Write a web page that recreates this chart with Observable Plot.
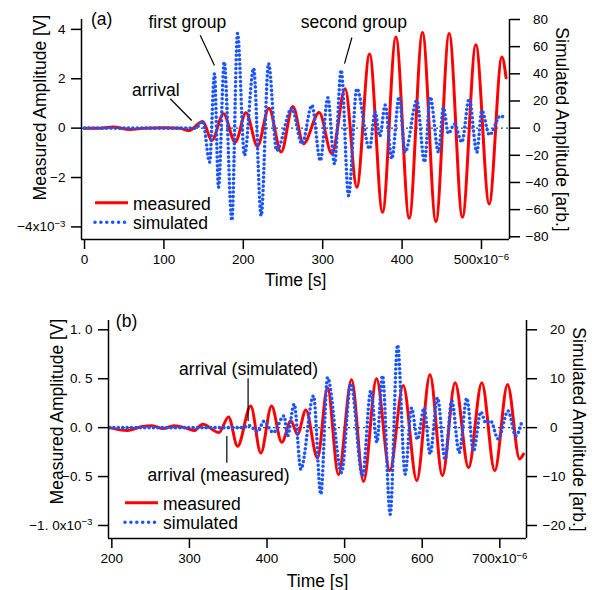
<!DOCTYPE html>
<html><head><meta charset="utf-8">
<script src="https://cdn.jsdelivr.net/npm/d3@7"></script>
<script src="https://cdn.jsdelivr.net/npm/@observablehq/plot@0.6"></script>
<style>
body{margin:0;background:#fff;}
#chart svg{display:block;}
</style></head><body><div id="chart"></div>
<script>
// ---- Panel (a): time in units of 1e-6 s, measured in 1e-3 V, simulated in arb. ----
const timeAMeasured = [0, 20, 36, 57, 75, 100, 120, 131, 149, 160.4, 175, 189.8, 203.3, 217.9, 232.2, 247.7, 262.4, 275.8, 295.6, 311.6, 328.3, 343, 359, 375.4, 392.2, 409, 425.7, 442.6, 459.3, 476, 492.9, 509.7, 525.7, 531];
const measuredA = [0, 0, 0.05, -0.06, 0, 0.02, 0, -0.1, 0.27, -0.5, 0.58, -0.57, 0.62, -0.73, 0.81, -0.97, 0.88, -0.63, 0.63, -1.04, 1.6, -2.39, 3.0, -3.41, 3.69, -3.65, 3.87, -3.79, 3.83, -3.61, 3.38, -3.07, 2.88, 2.04];
const timeASimulated = [0, 140, 149, 157.6, 163.7, 168.8, 176, 185.6, 192.7, 201.5, 213, 222.5, 231.8, 242, 261, 274, 286.4, 297, 306.5, 314.9, 323.3, 332.6, 343, 359, 366, 372, 378.7, 387, 396.3, 403.9, 418.6, 428.3, 435.4, 445.9, 452, 458.4, 466, 475.3, 484.5, 494.2, 500.5, 510, 524, 528];
const simulatedA = [0, 0, 5, -25, 40, -43.5, 48.7, -68, 69.7, -20, 44, -64.4, 47.5, -16.5, 14.5, -11.5, 16.8, -24, 22.4, -26.3, 42.6, -49.7, 29, -15.2, 12, -6, 17, -22.6, 22.9, -17.7, 20.4, -25, 22.9, -17.7, 15, -4, 3, -10.3, 21.7, -17.7, 13, -5, 9, 8];
const xTicksA = [0, 100, 200, 300, 400, 500];
const yTicksA = [-4, -2, 0, 2, 4];
const y2TicksA = [-80, -60, -40, -20, 0, 20, 40, 60, 80];
const notesA = [
  {text: "arrival", x: 59.7, y: 1.53, x1: 108, y1: 1.19, x2: 135, y2: 0.31},
  {text: "first group", x: 80.6, y: 4.29, x1: 145.7, y1: 3.76, x2: 163.7, y2: 2.54},
  {text: "second group", x: 272.5, y: 4.29, x1: 336.8, y1: 3.67, x2: 327.5, y2: 2.61}
];

// ---- Panel (b) ----
const timeBMeasured = [197, 220, 238, 252, 266, 280, 294, 306, 317, 338, 350.4, 362, 379, 392, 405.8, 419, 430.7, 439.3, 450, 465, 478, 492, 508.9, 524.4, 541.1, 558.2, 575.5, 593, 610, 626, 642.4, 659.7, 676.8, 693.5, 710, 725.5, 730.5];
const measuredB = [0, -0.03, 0.01, 0.02, -0.01, 0.02, 0, -0.03, 0.035, -0.05, 0.11, -0.19, 0.22, -0.26, 0.22, -0.15, 0.07, -0.07, 0.18, -0.31, 0.41, -0.48, 0.49, -0.55, 0.5, -0.44, 0.43, -0.54, 0.54, -0.49, 0.46, -0.41, 0.46, -0.44, 0.44, -0.32, -0.27];
const timeBSimulated = [197, 370, 376, 388, 396, 408, 422, 426.4, 435, 443.6, 459.9, 469.3, 478, 496, 508, 523, 533.8, 541.6, 548.8, 558.7, 568.2, 578, 586.2, 593.9, 602.5, 610.2, 619.7, 629.5, 638.1, 647.6, 657.5, 666.1, 675.5, 682, 688, 697.8, 710.7, 720.6, 728];
const simulatedB = [0, 0, 0.5, -0.8, 1.3, -1, 2.4, -1.7, 4.8, -8.5, 6.5, -13.6, 10.2, -9.2, 9, -9.9, 7.6, -3, 10.6, -17.7, 16.9, -9.5, 4, -2.4, 4, -5.4, 6.1, -6.5, 5.5, -5.1, 6, -4.8, 3.2, 1.0, 1.4, -2.3, 3.4, -1.7, 1];
const xTicksB = [200, 300, 400, 500, 600, 700];
const yTicksB = [-1, -0.5, 0, 0.5, 1];
const y2TicksB = [-20, -10, 0, 10, 20];
const notesB = [
  {text: "arrival (simulated)", x: 286.7, y: 0.6, x1: 375.6, y1: 0.505, x2: 375.6, y2: 0.068},
  {text: "arrival (measured)", x: 246, y: -0.484, x1: 348.2, y1: -0.085, x2: 348.2, y2: -0.358}
];

const seriesNames = ["measured", "simulated"];
const labelFont = "'Liberation Sans', Arial, sans-serif";
const tickFont = "'Liberation Sans Narrow', 'Liberation Sans', Arial, sans-serif";
const RED = "#ff0000", BLUE = "#1a55ff";

const minus = v => (v < 0 ? "\u2212" + (-v) : String(v));

function panel(o) {
  const meas = o.tm.map((t, i) => ({t, v: o.vm[i]}));
  const sim = o.ts.map((t, i) => ({t, v: o.vs[i] * o.k}));
  const axisStyle = {tickSize: 10, strokeWidth: 1.5, label: null, fontSize: 13.5};
  const lab = {fontFamily: labelFont, fontSize: 17.5, textAnchor: "middle", lineAnchor: "middle"};
  const svg = Plot.plot({
    width: 592, height: o.height,
    marginLeft: o.ml, marginRight: o.mr, marginTop: o.mt, marginBottom: o.mb,
    style: {fontFamily: tickFont, fontSize: "13.5px", overflow: "visible", background: "white", color: "black"},
    x: {domain: o.xd},
    y: {domain: o.yd},
    marks: [
      Plot.ruleY([0], {stroke: "#444", strokeWidth: 1.3, strokeDasharray: "2,3"}),
      Plot.line(meas, {x: "t", y: "v", stroke: RED, strokeWidth: 3, curve: "monotone-x"}),
      Plot.line(sim, {x: "t", y: "v", stroke: BLUE, strokeWidth: 3.6, strokeDasharray: "0 4.4", strokeLinecap: "round", curve: "monotone-x"}),
      Plot.axisX({...axisStyle, ticks: o.xt, tickPadding: 5, tickFormat: o.xf}),
      Plot.axisY({...axisStyle, anchor: "left", ticks: o.yt, tickPadding: 6, tickFormat: o.yf}),
      Plot.axisY({...axisStyle, anchor: "right", ticks: o.y2t.map(d => d * o.k), tickPadding: 6,
        tickFormat: d => { const v = Math.round(d / o.k); return v < 0 ? "\u2212" + (-v) : "\u00a0\u00a0" + v; }}),
      Plot.ruleX([o.xd[0]], {stroke: "black", strokeWidth: 1.5}),
      Plot.ruleX([o.xd[1]], {stroke: "black", strokeWidth: 1.5}),
      Plot.ruleY([o.yd[0]], {stroke: "black", strokeWidth: 1.5}),
      Plot.link(o.notes, {x1: "x1", y1: "y1", x2: "x2", y2: "y2", stroke: "black", strokeWidth: 1.2}),
      Plot.text(o.notes, {x: "x", y: "y", text: "text", ...lab, textAnchor: "start"}),
      Plot.text([o.tag], {x: o.tagX, y: o.tagY, ...lab, textAnchor: "start"}),
      Plot.text(["Time [s]"], {frameAnchor: "bottom", dy: o.xlDy, ...lab}),
      Plot.text(["Measured Amplitude [V]"], {frameAnchor: "left", dx: o.ylDx, dy: o.ylDy, rotate: -90, ...lab}),
      Plot.text(["Simulated Amplitude [arb.]"], {frameAnchor: "right", dx: o.y2lDx, rotate: 90, ...lab})
    ]
  });
  // superscript exponents in tick labels
  d3.select(svg).selectAll("text").each(function () {
    const s = this.textContent, i = s.indexOf("^");
    if (i >= 0) {
      const el = d3.select(this);
      el.text(null);
      el.append("tspan").text(s.slice(0, i));
      el.append("tspan").attr("dy", "-0.45em").attr("font-size", "0.72em").text(s.slice(i + 1));
    }
  });
  // legend
  const g = d3.select(svg).append("g").attr("font-family", labelFont).attr("font-size", 17.5).attr("text-anchor", "start");
  const L = o.legend;
  g.append("line").attr("x1", L.x).attr("x2", L.x + 33).attr("y1", L.y).attr("y2", L.y)
    .attr("stroke", RED).attr("stroke-width", 3);
  g.append("line").attr("x1", L.x).attr("x2", L.x + 31).attr("y1", L.y + 19.6).attr("y2", L.y + 19.6)
    .attr("stroke", BLUE).attr("stroke-width", 3.6).attr("stroke-dasharray", "0 5.9").attr("stroke-linecap", "round");
  g.append("text").attr("x", L.x + 38).attr("y", L.y).attr("dy", "0.4em").text(seriesNames[0]);
  g.append("text").attr("x", L.x + 38).attr("y", L.y + 19.6).attr("dy", "0.4em").text(seriesNames[1]);
  return svg;
}

const chart = document.getElementById("chart");
chart.append(panel({
  tm: timeAMeasured, vm: measuredA, ts: timeASimulated, vs: simulatedA, k: 0.055,
  height: 295, mt: 19, mb: 56, ml: 81, mr: 83,
  xd: [-3.8, 535.3], yd: [-4.51, 4.40],
  xt: xTicksA, yt: yTicksA, y2t: y2TicksA,
  xf: d => d === 500 ? "500x10^\u22126" : String(d),
  yf: d => d === -4 ? "\u22124x10^\u22123" : minus(d),
  notes: notesA, tag: "(a)", tagX: 8.1, tagY: 4.40,
  xlDy: 41, ylDx: -41.6, ylDy: -22, y2lDx: 52.3,
  legend: {x: 95, y: 202.7}
}));
chart.append(panel({
  tm: timeBMeasured, vm: measuredB, ts: timeBSimulated, vs: simulatedB, k: 0.05,
  height: 295, mt: 25, mb: 52, ml: 108, mr: 66,
  xd: [195.7, 734.4], yd: [-1.133, 1.095],
  xt: xTicksB, yt: yTicksB, y2t: y2TicksB,
  xf: d => d === 700 ? "700x10^\u22126" : String(d),
  yf: d => { let s = Math.abs(d).toFixed(1).replace(".", ". "); if (d < 0) s = "\u2212" + s; if (d === -1) s += "x10^\u22123"; return s; },
  notes: notesB, tag: "(b)", tagX: 205.2, tagY: 1.086,
  xlDy: 42.8, ylDx: -51.6, ylDy: -18, y2lDx: 51.9,
  legend: {x: 125, y: 207.7}
}));
</script>
</body></html>
